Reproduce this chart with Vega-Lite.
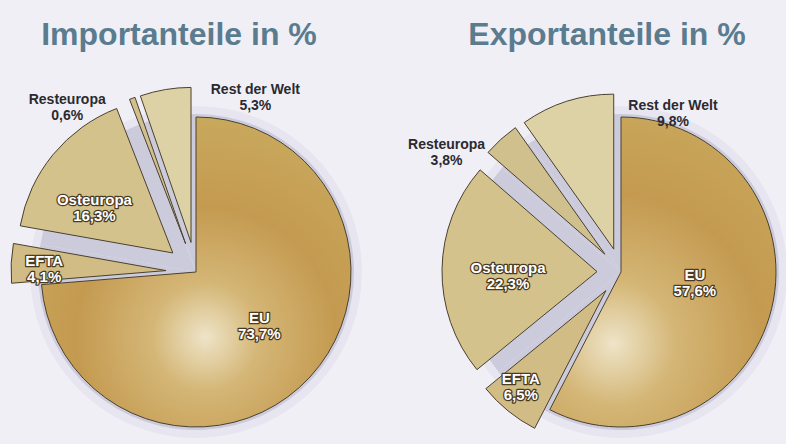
{
  "$schema": "https://vega.github.io/schema/vega-lite/v6.json",
  "background": "#f1eff6",
  "padding": {"left": 0, "top": 19, "right": 0, "bottom": 0},
  "spacing": 64,
  "bounds": "flush",
  "config": {"view": {"stroke": null}, "title": {"font": "Liberation Sans", "fontSize": 32, "fontWeight": "bold", "color": "#5a7c8e", "anchor": "middle", "offset": 4}},
  "data": {"values": [
    {"chart": "Import", "region": "EU", "share": 73.7, "nr": 1},
    {"chart": "Import", "region": "EFTA", "share": 4.1, "nr": 2},
    {"chart": "Import", "region": "Osteuropa", "share": 16.3, "nr": 3},
    {"chart": "Import", "region": "Resteuropa", "share": 0.6, "nr": 4},
    {"chart": "Import", "region": "Rest der Welt", "share": 5.3, "nr": 5},
    {"chart": "Export", "region": "EU", "share": 57.6, "nr": 1},
    {"chart": "Export", "region": "EFTA", "share": 6.5, "nr": 2},
    {"chart": "Export", "region": "Osteuropa", "share": 22.3, "nr": 3},
    {"chart": "Export", "region": "Resteuropa", "share": 3.8, "nr": 4},
    {"chart": "Export", "region": "Rest der Welt", "share": 9.8, "nr": 5}
  ]},
  "transform": [
    {"calculate": "datum.region + '\\n' + replace(format(datum.share, '.1f'), '.', ',') + '%'", "as": "label"}
  ],
  "hconcat": [
    {
      "width": 392, "height": 432,
      "title": {"text": "Importanteile in %", "dx": -17},
      "transform": [{"filter": "datum.chart === 'Import'"}],
      "encoding": {
        "theta": {"field": "share", "type": "quantitative", "stack": true, "scale": {"domain": [0, 100]}},
        "order": {"field": "nr", "type": "quantitative"},
        "detail": {"field": "region", "type": "nominal"}
      },
      "layer": [
        {"mark": {"type": "arc", "outerRadius": 166, "fill": "#e7e5f0"}},
        {"mark": {"type": "arc", "outerRadius": 158, "fill": "#cccbdc"}},
        {"mark": {"type": "arc", "outerRadius": 155, "stroke": "#4a4030", "strokeWidth": 1,
          "fill": {"gradient": "radial", "x1": 0.53, "y1": 0.71, "r1": 0, "x2": 0.53, "y2": 0.71, "r2": 0.7,
            "stops": [{"offset": 0, "color": "#eee4c8"}, {"offset": 0.25, "color": "#d4b676"}, {"offset": 0.6, "color": "#c49a50"}, {"offset": 1, "color": "#c8a85c"}]}},
          "encoding": {"opacity": {"condition": {"test": "datum.region === 'EU'", "value": 1}, "value": 0}}},
        {"mark": {"type": "arc", "outerRadius": 155, "stroke": "#4a4030", "strokeWidth": 1,
          "xOffset": {"expr": "datum.region === 'EU' ? 0 : 30 * sin(PI * (datum.share_start + datum.share_end) / 100)"},
          "yOffset": {"expr": "datum.region === 'EU' ? 0 : -30 * cos(PI * (datum.share_start + datum.share_end) / 100)"}},
          "encoding": {
            "color": {"field": "region", "type": "nominal", "legend": null,
              "scale": {"domain": ["EU", "EFTA", "Osteuropa", "Resteuropa", "Rest der Welt"], "range": ["#c49a50", "#d0bc84", "#d4c28c", "#cfc08e", "#dcd2a6"]}},
            "opacity": {"condition": {"test": "datum.region !== 'EU'", "value": 1}, "value": 0}}},
        {"mark": {"type": "text", "font": "Liberation Sans", "fontWeight": "bold", "fontSize": 15, "lineBreak": "\n", "lineHeight": 16,
          "fill": "#4a3a22", "stroke": "#4a3a22", "strokeWidth": 2.5, "strokeJoin": "round",
          "radius": {"expr": "datum.region === 'EU' ? 78 : datum.region === 'EFTA' ? 152 : 125"},
          "dx": {"expr": "datum.region === 'EU' ? 6 : datum.region === 'Osteuropa' ? -5 : 0"},
          "dy": {"expr": "datum.region === 'EU' ? -7 : datum.region === 'Osteuropa' ? 7 : -4"}},
          "encoding": {"text": {"condition": {"test": "datum.region === 'EU' || datum.region === 'EFTA' || datum.region === 'Osteuropa'", "field": "label"}, "value": ""}}},
        {"mark": {"type": "text", "font": "Liberation Sans", "fontWeight": "bold", "fontSize": 15, "lineBreak": "\n", "lineHeight": 16,
          "fill": "#ffffff",
          "radius": {"expr": "datum.region === 'EU' ? 78 : datum.region === 'EFTA' ? 152 : 125"},
          "dx": {"expr": "datum.region === 'EU' ? 6 : datum.region === 'Osteuropa' ? -5 : 0"},
          "dy": {"expr": "datum.region === 'EU' ? -7 : datum.region === 'Osteuropa' ? 7 : -4"}},
          "encoding": {"text": {"condition": {"test": "datum.region === 'EU' || datum.region === 'EFTA' || datum.region === 'Osteuropa'", "field": "label"}, "value": ""}}},
        {"mark": {"type": "text", "font": "Liberation Sans", "fontWeight": "bold", "fontSize": 14, "lineBreak": "\n", "lineHeight": 16,
          "fill": "#2a2a30",
          "radius": 185,
          "dx": {"expr": "datum.region === 'Resteuropa' ? -65 : 90"},
          "dy": {"expr": "datum.region === 'Resteuropa' ? 2 : 0"}},
          "encoding": {"text": {"condition": {"test": "datum.region === 'Resteuropa' || datum.region === 'Rest der Welt'", "field": "label"}, "value": ""}}}
      ]
    },
    {
      "width": 330, "height": 432,
      "title": {"text": "Exportanteile in %", "dx": -14},
      "transform": [{"filter": "datum.chart === 'Export'"}],
      "encoding": {
        "theta": {"field": "share", "type": "quantitative", "stack": true, "scale": {"domain": [0, 100]}},
        "order": {"field": "nr", "type": "quantitative"},
        "detail": {"field": "region", "type": "nominal"}
      },
      "layer": [
        {"mark": {"type": "arc", "outerRadius": 166, "fill": "#e7e5f0"}},
        {"mark": {"type": "arc", "outerRadius": 158, "fill": "#cccbdc"}},
        {"mark": {"type": "arc", "outerRadius": 155, "stroke": "#4a4030", "strokeWidth": 1,
          "fill": {"gradient": "radial", "x1": 0.34, "y1": 0.73, "r1": 0, "x2": 0.34, "y2": 0.73, "r2": 0.8,
            "stops": [{"offset": 0, "color": "#eee4c8"}, {"offset": 0.25, "color": "#d4b676"}, {"offset": 0.6, "color": "#c49a50"}, {"offset": 1, "color": "#c8a85c"}]}},
          "encoding": {"opacity": {"condition": {"test": "datum.region === 'EU'", "value": 1}, "value": 0}}},
        {"mark": {"type": "arc", "outerRadius": 155, "stroke": "#4a4030", "strokeWidth": 1,
          "xOffset": {"expr": "datum.region === 'EU' ? 0 : 24 * sin(PI * (datum.share_start + datum.share_end) / 100)"},
          "yOffset": {"expr": "datum.region === 'EU' ? 0 : -24 * cos(PI * (datum.share_start + datum.share_end) / 100)"}},
          "encoding": {
            "color": {"field": "region", "type": "nominal", "legend": null,
              "scale": {"domain": ["EU", "EFTA", "Osteuropa", "Resteuropa", "Rest der Welt"], "range": ["#c49a50", "#c39552", "#d6ca96", "#c9a462", "#ddd4a8"]}},
            "opacity": {"condition": {"test": "datum.region !== 'EU'", "value": 1}, "value": 0}}},
        {"mark": {"type": "text", "font": "Liberation Sans", "fontWeight": "bold", "fontSize": 15, "lineBreak": "\n", "lineHeight": 16,
          "fill": "#4a3a22", "stroke": "#4a3a22", "strokeWidth": 2.5, "strokeJoin": "round",
          "radius": {"expr": "datum.region === 'EU' ? 76 : datum.region === 'EFTA' ? 140 : 113"},
          "dx": {"expr": "datum.region === 'EFTA' ? -12 : 0"},
          "dy": {"expr": "datum.region === 'EU' ? -15 : -2"}},
          "encoding": {"text": {"condition": {"test": "datum.region === 'EU' || datum.region === 'EFTA' || datum.region === 'Osteuropa'", "field": "label"}, "value": ""}}},
        {"mark": {"type": "text", "font": "Liberation Sans", "fontWeight": "bold", "fontSize": 15, "lineBreak": "\n", "lineHeight": 16,
          "fill": "#ffffff",
          "radius": {"expr": "datum.region === 'EU' ? 76 : datum.region === 'EFTA' ? 140 : 113"},
          "dx": {"expr": "datum.region === 'EFTA' ? -12 : 0"},
          "dy": {"expr": "datum.region === 'EU' ? -15 : -2"}},
          "encoding": {"text": {"condition": {"test": "datum.region === 'EU' || datum.region === 'EFTA' || datum.region === 'Osteuropa'", "field": "label"}, "value": ""}}},
        {"mark": {"type": "text", "font": "Liberation Sans", "fontWeight": "bold", "fontSize": 14, "lineBreak": "\n", "lineHeight": 16,
          "fill": "#2a2a30",
          "radius": {"expr": "datum.region === 'Resteuropa' ? 190 : 185"},
          "dx": {"expr": "datum.region === 'Resteuropa' ? -47 : 108"},
          "dy": {"expr": "datum.region === 'Resteuropa' ? 14 : 10"}},
          "encoding": {"text": {"condition": {"test": "datum.region === 'Resteuropa' || datum.region === 'Rest der Welt'", "field": "label"}, "value": ""}}}
      ]
    }
  ]
}
